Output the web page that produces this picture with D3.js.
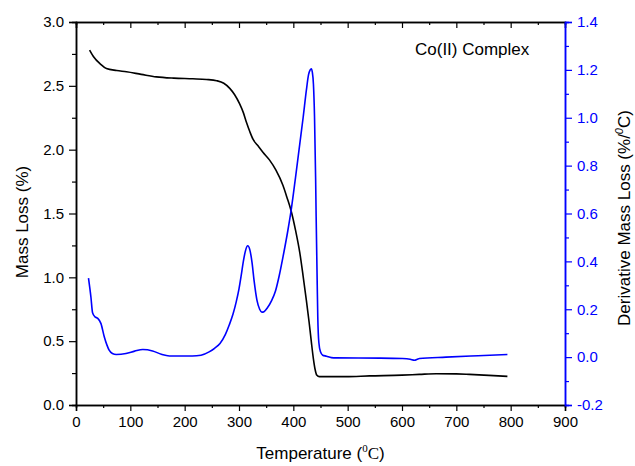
<!DOCTYPE html>
<html>
<head>
<meta charset="utf-8">
<script src="https://cdn.jsdelivr.net/npm/d3@7"></script>
<style>
  html, body { margin: 0; padding: 0; background: #fff; }
  svg { display: block; }
  text { font-family: "Liberation Sans", Arial, sans-serif; }
</style>
</head>
<body>
<svg id="chart" width="635" height="466"></svg>
<script>
// Thermogravimetric data for the Co(II) complex
const temperature = [25, 32, 45, 56, 75, 93, 120, 148, 180, 215, 240, 259, 272, 283, 292, 301, 308, 314, 320, 326, 335, 344, 356, 368, 381, 388, 396, 404, 412, 418, 424, 429, 433, 437, 440, 443, 448, 497, 540, 600, 632, 663, 700, 724, 760, 794];
const massLoss = [2.78, 2.73, 2.67, 2.635, 2.62, 2.61, 2.59, 2.57, 2.56, 2.555, 2.55, 2.54, 2.52, 2.48, 2.43, 2.36, 2.29, 2.21, 2.14, 2.08, 2.03, 1.98, 1.92, 1.84, 1.72, 1.63, 1.52, 1.37, 1.19, 1.01, 0.82, 0.65, 0.50, 0.36, 0.28, 0.235, 0.222, 0.222, 0.228, 0.234, 0.24, 0.245, 0.244, 0.24, 0.232, 0.224];

// Derivative (DTG) curve
const dtgTemperature = [23, 27.5, 30.5, 35, 40, 46, 52, 57, 61, 67, 74, 92, 108, 123, 141, 157, 172, 214, 230, 245, 255, 265, 275, 282, 289, 295, 300, 304, 308, 312, 316, 320, 324, 328, 333, 338, 342, 346, 352, 360, 367, 374, 381, 390, 396, 404, 412, 418, 424, 428, 431, 433, 435, 437, 439, 441, 442, 444, 445, 447, 450, 454, 461, 470, 479, 560, 601, 615, 623, 628, 632, 681, 740, 794];
const dtgValue = [0.33, 0.25, 0.185, 0.168, 0.162, 0.14, 0.085, 0.05, 0.029, 0.015, 0.011, 0.015, 0.025, 0.032, 0.026, 0.012, 0.005, 0.005, 0.008, 0.022, 0.037, 0.057, 0.095, 0.134, 0.18, 0.232, 0.285, 0.34, 0.4, 0.445, 0.465, 0.448, 0.395, 0.315, 0.238, 0.2, 0.188, 0.19, 0.205, 0.236, 0.275, 0.34, 0.419, 0.53, 0.614, 0.75, 0.893, 1.0, 1.115, 1.18, 1.2, 1.205, 1.19, 1.14, 1.004, 0.75, 0.586, 0.3, 0.168, 0.06, 0.022, 0.008, 0.004, -0.002, -0.003, -0.004, -0.006, -0.009, -0.013, -0.009, -0.006, 0.0, 0.006, 0.011];

// Axis ticks
const xTicks = [0, 100, 200, 300, 400, 500, 600, 700, 800, 900];
const xMinorTicks = [50, 150, 250, 350, 450, 550, 650, 750, 850];
const leftTicks = [0.0, 0.5, 1.0, 1.5, 2.0, 2.5, 3.0];
const leftMinorTicks = [0.25, 0.75, 1.25, 1.75, 2.25, 2.75];
const rightTicks = [-0.2, 0.0, 0.2, 0.4, 0.6, 0.8, 1.0, 1.2, 1.4];
const rightMinorTicks = [-0.1, 0.1, 0.3, 0.5, 0.7, 0.9, 1.1, 1.3];

const blue = "#0000ff";
const margin = { top: 22, right: 70, bottom: 61, left: 76 };
const width = 635, height = 466;
const svg = d3.select("#chart");

const x = d3.scaleLinear().domain([0, 900]).range([margin.left, width - margin.right]);
const yL = d3.scaleLinear().domain([0, 3.0]).range([height - margin.bottom, margin.top]);
const yR = d3.scaleLinear().domain([-0.2, 1.4]).range([height - margin.bottom, margin.top]);

function styleAxis(g, color) {
  g.selectAll("path.domain").attr("stroke", color).attr("stroke-width", 1.5);
  g.selectAll(".tick line").attr("stroke", color).attr("stroke-width", 1.2);
  g.selectAll(".tick text").attr("fill", color)
    .style("font-family", '"Liberation Sans", Arial, sans-serif').style("font-size", "15px");
}

// Curves
const massLine = d3.line().x(d => x(d[0])).y(d => yL(d[1])).curve(d3.curveMonotoneX);
const dtgLine = d3.line().x(d => x(d[0])).y(d => yR(d[1])).curve(d3.curveMonotoneX);

svg.append("path")
  .datum(temperature.map((t, i) => [t, massLoss[i]]))
  .attr("d", massLine).attr("fill", "none").attr("stroke", "#000").attr("stroke-width", 1.6);

svg.append("path")
  .datum(dtgTemperature.map((t, i) => [t, dtgValue[i]]))
  .attr("d", dtgLine).attr("fill", "none").attr("stroke", blue).attr("stroke-width", 1.6);

// Bottom axis
const gxMinor = svg.append("g").attr("transform", `translate(0,${height - margin.bottom})`)
  .call(d3.axisBottom(x).tickValues(xMinorTicks).tickSize(3).tickFormat(""));
styleAxis(gxMinor, "#000");
const gx = svg.append("g").attr("transform", `translate(0,${height - margin.bottom})`)
  .call(d3.axisBottom(x).tickValues(xTicks).tickSize(6).tickPadding(5).tickFormat(d3.format("d")));
styleAxis(gx, "#000");

// Top axis, ticks pointing inward
const gtMinor = svg.append("g").attr("transform", `translate(0,${margin.top})`)
  .call(d3.axisTop(x).tickValues(xMinorTicks).tickSize(-3).tickFormat(""));
styleAxis(gtMinor, "#000");
const gt = svg.append("g").attr("transform", `translate(0,${margin.top})`)
  .call(d3.axisTop(x).tickValues(xTicks).tickSize(-6).tickFormat(""));
styleAxis(gt, "#000");

// Left axis
const gyMinor = svg.append("g").attr("transform", `translate(${margin.left},0)`)
  .call(d3.axisLeft(yL).tickValues(leftMinorTicks).tickSize(4).tickFormat(""));
styleAxis(gyMinor, "#000");
const gy = svg.append("g").attr("transform", `translate(${margin.left},0)`)
  .call(d3.axisLeft(yL).tickValues(leftTicks).tickSize(7).tickPadding(5).tickFormat(d3.format(".1f")));
styleAxis(gy, "#000");

// Right axis
const fmtR = v => d3.format(".1f")(v).replace("\u2212", "-");
const grMinor = svg.append("g").attr("transform", `translate(${width - margin.right},0)`)
  .call(d3.axisRight(yR).tickValues(rightMinorTicks).tickSize(4).tickFormat(""));
styleAxis(grMinor, blue);
const gr = svg.append("g").attr("transform", `translate(${width - margin.right},0)`)
  .call(d3.axisRight(yR).tickValues(rightTicks).tickSize(7).tickPadding(5).tickFormat(fmtR));
styleAxis(gr, blue);

// Axis titles
const xTitle = svg.append("text")
  .attr("x", (margin.left + width - margin.right) / 2).attr("y", 459)
  .attr("text-anchor", "middle").style("font-size", "17px").attr("fill", "#000");
xTitle.append("tspan").text("Temperature (");
xTitle.append("tspan").text("0").attr("dy", -7).style("font-size", "11px")
  .style("font-family", '"Liberation Serif", "Times New Roman", serif');
xTitle.append("tspan").text("C").attr("dy", 7)
  .style("font-family", '"Liberation Serif", "Times New Roman", serif');
xTitle.append("tspan").text(")");

svg.append("text")
  .attr("transform", "translate(28,222) rotate(-90)")
  .attr("text-anchor", "middle").style("font-size", "17px").attr("fill", "#000")
  .text("Mass Loss (%)");

const rTitle = svg.append("text")
  .attr("transform", "translate(630,218) rotate(-90)")
  .attr("text-anchor", "middle").style("font-size", "17px").attr("fill", "#000");
rTitle.append("tspan").text("Derivative Mass Loss (%/");
rTitle.append("tspan").text("0").attr("dy", -7).style("font-size", "11px").style("font-style", "italic");
rTitle.append("tspan").text("C)").attr("dy", 7);

// Sample label
svg.append("text")
  .attr("x", 415).attr("y", 54.5)
  .style("font-size", "17px").attr("fill", "#000")
  .text("Co(II) Complex");
</script>
</body>
</html>
